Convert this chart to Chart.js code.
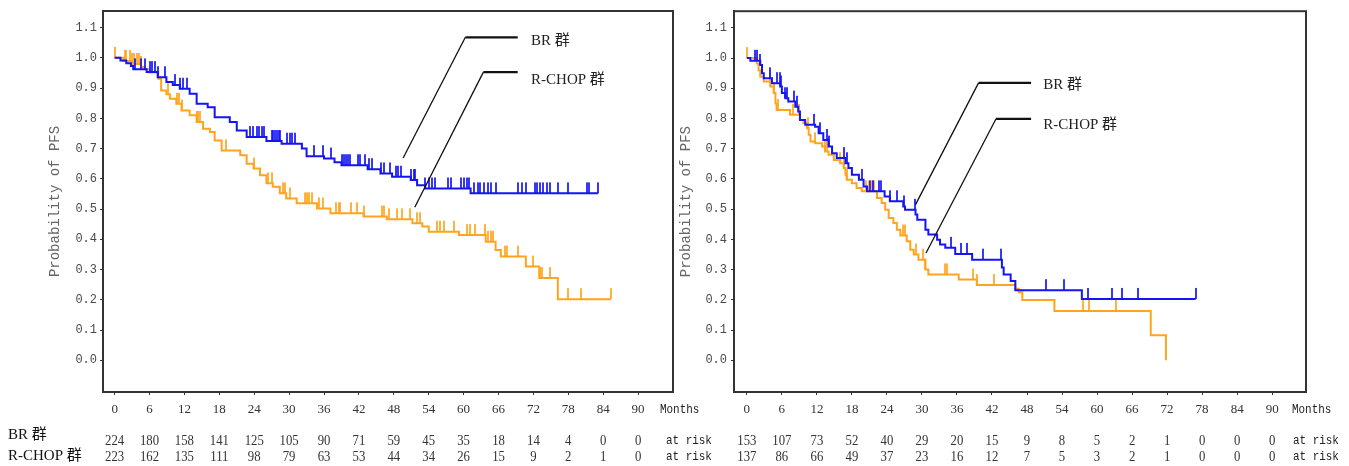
<!DOCTYPE html>
<html>
<head>
<meta charset="utf-8">
<script src="https://cdn.jsdelivr.net/npm/chart.js@4.4.0/dist/chart.umd.min.js"></script>
<style>
  html, body { margin: 0; padding: 0; background: #fff; }
  body { width: 1349px; height: 466px; position: relative; overflow: hidden; }
  canvas { position: absolute; top: 0; }
  #pfsLeft { left: 0; }
  #pfsRight { left: 640px; }
</style>
</head>
<body>
<canvas id="pfsLeft" width="720" height="466"></canvas>
<canvas id="pfsRight" width="709" height="466"></canvas>
<script>
// shared axis ticks
const monthTicks = [0, 6, 12, 18, 24, 30, 36, 42, 48, 54, 60, 66, 72, 78, 84, 90];
const probTicks = [0, 0.1, 0.2, 0.3, 0.4, 0.5, 0.6, 0.7, 0.8, 0.9, 1.0, 1.1];
const groupNames = ['BR 群', 'R-CHOP 群'];

// left panel, BR arm: event times (months) and survival after each step
const leftBrTimes = [0, 1.0, 2.0, 2.8, 3.2, 5.5, 7.4, 8.9, 10.0, 11.2, 12.9, 14.1, 16.0, 17.2, 19.8, 21.0, 22.7,
  26.1, 28.7, 32.2, 33.0, 36.0, 37.8, 39.0, 43.5, 45.7, 47.7, 50.9, 52.0, 53.4, 61.2];
const leftBrSurv = [1.0, 0.991, 0.982, 0.973, 0.962, 0.953, 0.936, 0.92, 0.91, 0.898, 0.881, 0.848, 0.837, 0.804, 0.788, 0.76, 0.738,
  0.725, 0.716, 0.70, 0.675, 0.667, 0.655, 0.645, 0.632, 0.618, 0.607, 0.596, 0.579, 0.568, 0.552];
const leftBrEnd = 83.1;
const leftBrCensor = [3.5, 4.5, 5.3, 6.0, 6.5, 6.9, 7.5, 8.6, 10.3, 11.2, 11.8, 12.5, 23.3, 23.8, 24.4, 24.9, 25.3, 25.6,
  27.0, 27.3, 27.6, 27.9, 28.2, 28.4, 29.6, 30.1, 30.5, 31.0, 34.2, 35.8, 37.2, 39.1, 39.5, 39.8, 40.2, 40.5, 41.8, 42.2,
  43.1, 43.7, 44.3, 45.8, 46.3, 47.3, 48.4, 48.8, 49.3, 50.9, 51.4, 51.7, 53.4, 54.0, 54.6, 55.0, 57.3, 57.8, 59.5, 60.1,
  60.6, 60.9, 61.8, 62.4, 62.9, 63.5, 64.2, 64.7, 65.5, 69.3, 70.1, 70.7, 72.2, 72.7, 73.2, 73.7, 74.3, 74.9, 76.2, 77.9,
  81.2, 81.6, 83.1];

// left panel, R-CHOP arm
const leftRchopTimes = [0, 1.5, 3.0, 4.5, 5.2, 6.0, 7.5, 8.0, 8.9, 9.5, 10.6, 11.5, 12.9, 14.1, 15.2, 16.4, 17.2, 18.4,
  21.6, 22.7, 23.9, 25.0, 26.1, 27.2, 28.4, 29.5, 31.3, 34.8, 37.1, 42.8, 46.8, 51.2, 52.9, 54.0, 59.2, 63.8, 65.5,
  66.4, 70.7, 73.0, 76.2];
const leftRchopSurv = [1.0, 0.99, 0.98, 0.97, 0.962, 0.952, 0.931, 0.892, 0.88, 0.865, 0.848, 0.826, 0.81, 0.788, 0.766,
  0.755, 0.727, 0.694, 0.678, 0.65, 0.634, 0.612, 0.585, 0.574, 0.552, 0.535, 0.519, 0.502, 0.486, 0.475, 0.466, 0.453,
  0.442, 0.425, 0.414, 0.392, 0.365, 0.343, 0.31, 0.272, 0.202];
const leftRchopEnd = 85.3;
const leftRchopCensor = [0, 1.7, 2.0, 2.6, 3.0, 3.4, 3.9, 4.2, 4.6, 9.2, 10.7, 11.1, 11.5, 14.1, 14.4, 14.7, 19.1, 23.9,
  26.4, 27.0, 28.9, 29.3, 30.2, 32.8, 33.1, 33.5, 33.9, 35.1, 35.9, 38.1, 38.5, 38.8, 40.6, 41.7, 42.8, 45.9, 46.3, 47.2,
  48.6, 49.4, 50.8, 51.9, 52.5, 55.5, 56.0, 56.6, 58.3, 60.6, 61.1, 62.0, 63.6, 64.2, 64.7, 65.1, 67.1, 67.5, 69.3, 72.0,
  73.1, 73.4, 74.9, 77.9, 80.2, 85.3];

const leftBrAtRisk = [224, 180, 158, 141, 125, 105, 90, 71, 59, 45, 35, 18, 14, 4, 0, 0];
const leftRchopAtRisk = [223, 162, 135, 111, 98, 79, 63, 53, 44, 34, 26, 15, 9, 2, 1, 0];

// right panel, BR arm
const rightBrTimes = [0, 0.6, 2.3, 2.6, 2.9, 4.3, 5.7, 6.0, 6.6, 7.1, 8.3, 8.8, 9.1, 10.0, 11.7, 12.3, 13.1, 14.0, 14.6,
  15.4, 16.9, 17.4, 18.0, 19.2, 20.0, 20.6, 23.6, 24.5, 26.8, 27.1, 28.9, 29.2, 30.6, 31.1, 32.6, 33.1, 34.0, 35.7, 38.6,
  43.7, 44.0, 45.2, 46.0, 57.4];
const rightBrSurv = [1.0, 0.991, 0.977, 0.95, 0.933, 0.917, 0.906, 0.884, 0.867, 0.856, 0.839, 0.823, 0.795, 0.779, 0.773,
  0.751, 0.729, 0.707, 0.685, 0.669, 0.652, 0.636, 0.614, 0.597, 0.575, 0.559, 0.542, 0.526, 0.509, 0.498, 0.482, 0.465,
  0.432, 0.416, 0.399, 0.383, 0.372, 0.352, 0.333, 0.307, 0.284, 0.262, 0.232, 0.203];
const rightBrEnd = 76.9;
const rightBrCensor = [1.4, 1.8, 2.3, 3.9, 5.1, 5.6, 5.8, 6.6, 6.9, 8.0, 8.6, 11.5, 12.5, 13.7, 14.0, 16.6, 17.1, 19.7,
  21.1, 21.6, 22.7, 22.9, 24.6, 25.7, 27.0, 28.8, 34.9, 36.7, 37.7, 40.5, 43.5, 51.3, 54.4, 58.4, 62.6, 64.2, 67.1, 76.9];

// right panel, R-CHOP arm
const rightRchopTimes = [0, 1.7, 2.0, 2.3, 2.9, 4.0, 4.6, 4.9, 5.1, 7.4, 9.1, 9.7, 10.3, 10.6, 10.9, 11.7, 12.9, 13.4,
  14.0, 14.9, 16.0, 16.6, 16.9, 17.1, 18.0, 18.8, 19.7, 22.3, 23.1, 23.7, 24.3, 25.1, 25.7, 26.3, 27.4, 28.0, 28.6, 29.4,
  30.6, 31.1, 36.3, 39.4, 46.0, 46.6, 47.2, 52.7, 69.2, 71.8];
const rightRchopSurv = [1.0, 0.982, 0.96, 0.938, 0.922, 0.906, 0.884, 0.85, 0.828, 0.812, 0.795, 0.784, 0.768, 0.746,
  0.724, 0.718, 0.707, 0.691, 0.68, 0.663, 0.652, 0.636, 0.614, 0.597, 0.586, 0.57, 0.559, 0.537, 0.52, 0.498, 0.471,
  0.454, 0.432, 0.413, 0.394, 0.366, 0.35, 0.333, 0.30, 0.284, 0.267, 0.249, 0.237, 0.225, 0.199, 0.163, 0.083, 0.0];
const rightRchopEnd = 71.8;
const rightRchopCensor = [0, 3.9, 4.6, 5.4, 7.9, 9.0, 10.4, 11.7, 13.4, 13.7, 16.0, 16.6, 17.1, 20.5, 21.0, 21.4, 21.8,
  26.7, 27.1, 29.0, 30.2, 30.6, 33.9, 34.3, 38.7, 39.5, 42.4, 57.6, 58.6, 63.3];

const rightBrAtRisk = [153, 107, 73, 52, 40, 29, 20, 15, 9, 8, 5, 2, 1, 0, 0, 0];
const rightRchopAtRisk = [137, 86, 66, 49, 37, 23, 16, 12, 7, 5, 3, 2, 1, 0, 0, 0];

const BLUE = '#1414f5';
const ORANGE = '#ffa41c';

function stepPoints(times, surv, end) {
  const pts = times.map((t, i) => ({ x: t, y: surv[i] }));
  pts.push({ x: end, y: surv[surv.length - 1] });
  return pts;
}

function survAt(times, surv, t) {
  let s = surv[0];
  for (let i = 0; i < times.length; i++) {
    if (times[i] <= t) s = surv[i];
  }
  return s;
}

// small upward tick used for censored observations
function censorMark(color) {
  const c = document.createElement('canvas');
  c.width = 2;
  c.height = 24;
  const g = c.getContext('2d');
  g.globalAlpha = 0.85;
  g.fillStyle = color;
  g.fillRect(0, 1, 2, 11);
  return c;
}

function drawCondensed(ctx, text, x, y, font, sx, align) {
  ctx.save();
  ctx.font = font;
  ctx.textBaseline = 'middle';
  ctx.textAlign = align || 'left';
  ctx.translate(x, y);
  ctx.scale(sx, 1);
  ctx.fillText(text, 0, 0);
  ctx.restore();
}

// frame, leader lines with group names, number-at-risk table
const panelDecor = {
  id: 'panelDecor',
  afterDraw(chart, args, opts) {
    const { ctx, chartArea: a } = chart;
    const x = chart.scales.x;
    const y = chart.scales.y;
    ctx.save();
    ctx.strokeStyle = '#333';
    ctx.lineWidth = 2;
    ctx.strokeRect(a.left, a.top, a.right - a.left, a.bottom - a.top);

    opts.leaders.forEach(function (l) {
      const bx = x.getPixelForValue(l.bendX);
      const by = y.getPixelForValue(l.barY);
      ctx.strokeStyle = '#111';
      ctx.lineWidth = 1.3;
      ctx.beginPath();
      ctx.moveTo(x.getPixelForValue(l.tipX), y.getPixelForValue(l.tipY));
      ctx.lineTo(bx, by);
      ctx.stroke();
      ctx.lineWidth = 2.2;
      ctx.beginPath();
      ctx.moveTo(bx, by);
      ctx.lineTo(x.getPixelForValue(l.barEnd), by);
      ctx.stroke();
      ctx.fillStyle = '#222';
      ctx.font = '15px "Liberation Serif", "Noto Sans CJK SC", serif';
      ctx.textBaseline = 'middle';
      ctx.textAlign = 'left';
      ctx.fillText(l.text, x.getPixelForValue(l.textX), y.getPixelForValue(l.textY));
    });

    ctx.fillStyle = '#222';
    drawCondensed(ctx, 'Months', a.right + opts.monthsOffset, 410, '13px "Liberation Mono", monospace', 0.84);
    const numFont = '15px "Liberation Serif", serif';
    opts.rows.forEach(function (row) {
      ctx.fillStyle = '#333';
      row.values.forEach(function (v, i) {
        drawCondensed(ctx, String(v), x.getPixelForValue(monthTicks[i]), row.y, numFont, 0.85, 'center');
      });
      ctx.fillStyle = '#222';
      drawCondensed(ctx, 'at risk', a.right + opts.atRiskOffset, row.y, '13px "Liberation Mono", monospace', 0.84);
    });

    if (opts.rowLabels) {
      ctx.fillStyle = '#111';
      ctx.font = '15px "Liberation Serif", "Noto Sans CJK SC", serif';
      ctx.textBaseline = 'middle';
      ctx.textAlign = 'left';
      ctx.fillText(groupNames[0], 8, 435);
      ctx.fillText(groupNames[1], 8, 456);
    }
    ctx.restore();
  }
};

function makePanel(id, cfg) {
  const brCensorPts = cfg.brCensor.map(t => ({ x: t, y: survAt(cfg.brTimes, cfg.brSurv, t) }));
  const rcCensorPts = cfg.rcCensor.map(t => ({ x: t, y: survAt(cfg.rcTimes, cfg.rcSurv, t) }));
  return new Chart(document.getElementById(id), {
    type: 'scatter',
    data: {
      datasets: [
        // 'before' in Chart.js runs flat to the next time, then drops
        { label: groupNames[0], data: stepPoints(cfg.brTimes, cfg.brSurv, cfg.brEnd), showLine: true, stepped: 'before',
          borderColor: BLUE, borderWidth: 2, pointRadius: 0, order: 1 },
        { label: groupNames[0] + ' censored', data: brCensorPts, pointStyle: censorMark(BLUE), pointRadius: 4, order: 0 },
        { label: groupNames[1], data: stepPoints(cfg.rcTimes, cfg.rcSurv, cfg.rcEnd), showLine: true, stepped: 'before',
          borderColor: ORANGE, borderWidth: 2, pointRadius: 0, order: 3 },
        { label: groupNames[1] + ' censored', data: rcCensorPts, pointStyle: censorMark(ORANGE), pointRadius: 4, order: 2 }
      ]
    },
    options: {
      responsive: false,
      animation: false,
      events: [],
      layout: { padding: { left: 0, top: 11, right: cfg.padRight, bottom: 0 } },
      plugins: {
        legend: { display: false },
        tooltip: { enabled: false },
        panelDecor: {
          leaders: cfg.leaders,
          rows: [{ y: 441, values: cfg.brAtRisk }, { y: 457, values: cfg.rcAtRisk }],
          rowLabels: cfg.rowLabels,
          monthsOffset: cfg.monthsOffset,
          atRiskOffset: cfg.atRiskOffset
        }
      },
      scales: {
        x: {
          type: 'linear',
          min: cfg.xMin,
          max: cfg.xMax,
          afterFit: function (s) { s.height = 74; },
          afterBuildTicks: function (s) { s.ticks = monthTicks.map(v => ({ value: v })); },
          ticks: { font: { family: 'Liberation Serif', size: 13 }, color: '#333', padding: 7, autoSkip: false, maxRotation: 0 },
          grid: { display: true, drawOnChartArea: false, drawTicks: true, tickLength: 3, color: '#333' },
          border: { display: true, color: '#333', width: 2 }
        },
        y: {
          type: 'linear',
          min: -0.105,
          max: 1.155,
          afterFit: function (s) { s.width = cfg.yWidth; },
          afterBuildTicks: function (s) { s.ticks = probTicks.map(v => ({ value: v })); },
          ticks: {
            font: { family: 'Liberation Mono', size: 12 },
            color: '#4a4a4a',
            padding: cfg.yTickPad,
            autoSkip: false,
            callback: function (v) { return Number(v).toFixed(1); }
          },
          grid: { display: true, drawOnChartArea: false, drawTicks: true, tickLength: 3, color: '#333' },
          border: { display: true, color: '#333', width: 2 },
          title: {
            display: true,
            text: 'Probability of PFS',
            font: { family: 'Liberation Mono', size: 14 },
            color: '#666',
            padding: { top: cfg.titlePad, bottom: 0 }
          }
        }
      }
    },
    plugins: [panelDecor]
  });
}

makePanel('pfsLeft', {
  brTimes: leftBrTimes, brSurv: leftBrSurv, brEnd: leftBrEnd, brCensor: leftBrCensor,
  rcTimes: leftRchopTimes, rcSurv: leftRchopSurv, rcEnd: leftRchopEnd, rcCensor: leftRchopCensor,
  brAtRisk: leftBrAtRisk, rcAtRisk: leftRchopAtRisk,
  xMin: -2, xMax: 96, yWidth: 103, yTickPad: 3, titlePad: 47, padRight: 47,
  monthsOffset: -13, atRiskOffset: -7, rowLabels: true,
  leaders: [
    { text: groupNames[0], tipX: 49.6, tipY: 0.669, bendX: 60.3, barY: 1.068, barEnd: 69.3, textX: 71.6, textY: 1.057 },
    { text: groupNames[1], tipX: 51.6, tipY: 0.506, bendX: 63.4, barY: 0.953, barEnd: 69.3, textX: 71.6, textY: 0.928 }
  ]
});

makePanel('pfsRight', {
  brTimes: rightBrTimes, brSurv: rightBrSurv, brEnd: rightBrEnd, brCensor: rightBrCensor,
  rcTimes: rightRchopTimes, rcSurv: rightRchopSurv, rcEnd: rightRchopEnd, rcCensor: rightRchopCensor,
  brAtRisk: rightBrAtRisk, rcAtRisk: rightRchopAtRisk,
  xMin: -2.2, xMax: 95.8, yWidth: 94, yTickPad: 4, titlePad: 38, padRight: 43,
  monthsOffset: -14, atRiskOffset: -13, rowLabels: false,
  leaders: [
    { text: groupNames[0], tipX: 28.9, tipY: 0.515, bendX: 39.7, barY: 0.918, barEnd: 48.7, textX: 50.8, textY: 0.909 },
    { text: groupNames[1], tipX: 30.7, tipY: 0.355, bendX: 42.7, barY: 0.799, barEnd: 48.7, textX: 50.8, textY: 0.779 }
  ]
});
</script>
</body>
</html>
